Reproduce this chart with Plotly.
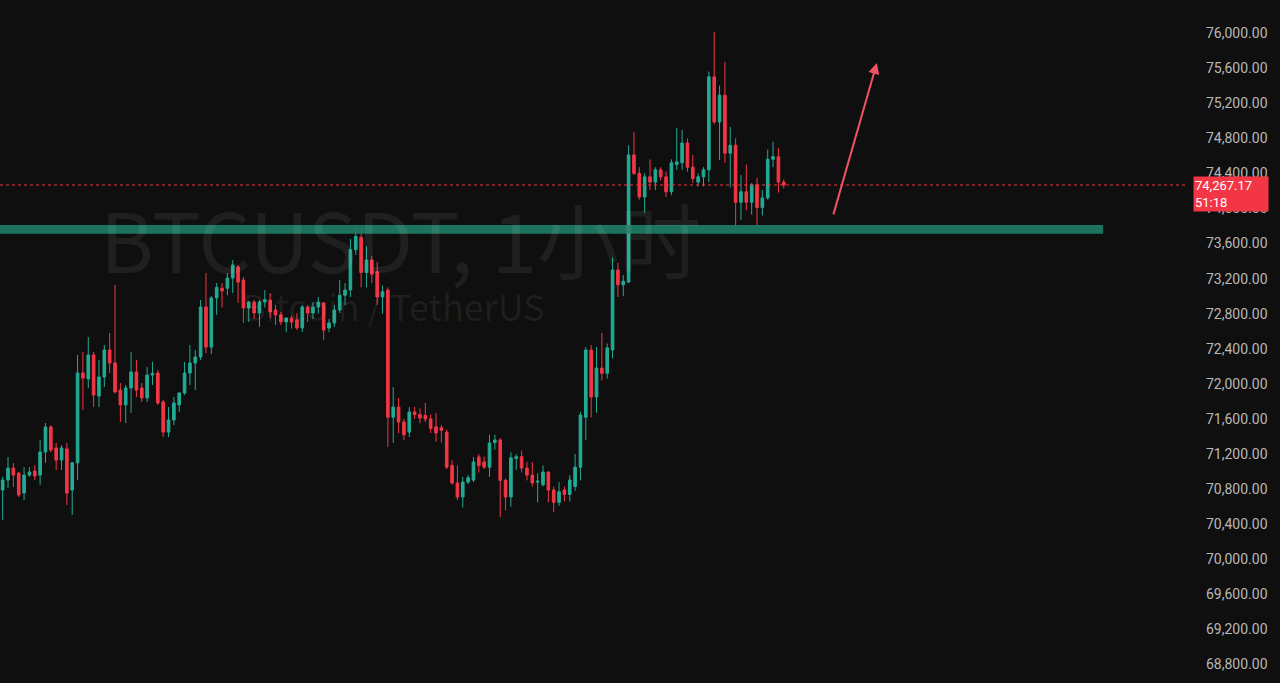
import plotly.graph_objects as go

# OHLC data (hourly candles, BTCUSDT)
opens = [70790, 70904, 71040, 70983, 70756, 70960, 71006, 70960, 71223, 71508,
         71270, 71132, 71258, 70790, 71100, 72124, 72056, 72330, 71862, 72078,
         72386, 72238, 71930, 71760, 71953, 72135, 71953, 71840, 72100, 72124,
         71794, 71450, 71588, 71760, 71896, 72124, 72238, 72306, 72876, 72420,
         72980, 73090, 73090, 73206, 73332, 73184, 72865, 72933, 72808, 72933,
         72956, 72842, 72786, 72706, 72750, 72728, 72638, 72876, 72808, 72876,
         72922, 72636, 72694, 72842, 73010, 73070, 73530, 73670, 73270, 73412,
         73280, 72990, 73070, 71620, 71736, 71565, 71450, 71680, 71650, 71640,
         71600, 71510, 71500, 71450, 71070, 70870, 70710, 70880, 70904, 71166,
         71110, 71050, 71330, 71360, 70900, 70710, 71150, 71170, 71040, 70960,
         70880, 70850, 70995, 70790, 70650, 70790, 70740, 70830, 71050, 71620,
         72386, 71850, 72180, 72120, 72386, 73298, 73130, 73160, 74610, 74400,
         74130, 74360, 74300, 74440, 74360, 74190, 74500, 74520, 74746, 74470,
         74300, 74360, 74440, 75500, 74986, 75290, 74630, 74720, 74070, 74190,
         74070, 74270, 74010, 74120, 74560, 74590, 74300]
highs = [70940, 71166, 71097, 70995, 71050, 71050, 71070, 71360, 71554, 71530,
         71326, 71300, 71326, 71110, 72330, 72363, 72534, 72363, 72272, 72443,
         72580, 73128, 72010, 71987, 72363, 72272, 72010, 72192, 72250, 72158,
         71816, 71736, 71850, 71907, 72250, 72443, 72386, 72956, 73264, 73000,
         73150, 73150, 73264, 73412, 73355, 73218, 72945, 72956, 72956, 73070,
         73030, 72900, 72820, 72760, 72780, 72808, 72900, 72900, 72930, 72990,
         72933, 72740, 72900, 73184, 73150, 73650, 73780, 73780, 73570, 73460,
         73390, 73120, 73100, 71964, 71840, 71600, 71736, 71736, 71720, 71782,
         71650, 71668, 71530, 71480, 71130, 71070, 70940, 70960, 71166, 71200,
         71170, 71420, 71420, 71380, 70920, 71220, 71200, 71240, 71110, 71110,
         70980, 71070, 71000, 70830, 70880, 70830, 70960, 71200, 71680, 72420,
         72443, 72420, 72580, 72460, 73440, 73380, 73240, 74720, 74870, 74470,
         74400, 74560, 74470, 74470, 74420, 74560, 74920, 74894, 74800, 74610,
         74400, 74470, 75560, 76010, 75400, 75670, 74930, 74800, 74380, 74500,
         74290, 74350, 74210, 74670, 74760, 74690, 74330]
lows = [70450, 70813, 70825, 70710, 70676, 70940, 70905, 70850, 71100, 71220,
        71018, 71018, 70620, 70505, 70904, 71702, 71953, 71736, 71736, 71964,
        72124, 71890, 71565, 71554, 71668, 71850, 71794, 71794, 71987, 71760,
        71394, 71394, 71530, 71680, 71873, 71987, 71930, 72272, 72352, 72340,
        72786, 72870, 73010, 73036, 72922, 72694, 72705, 72740, 72650, 72870,
        72750, 72670, 72670, 72590, 72630, 72614, 72590, 72706, 72740, 72800,
        72500, 72590, 72650, 72808, 72900, 72990, 73470, 73100, 73100, 73150,
        72900, 72800, 71280, 71326, 71440, 71360, 71394, 71600, 71550, 71565,
        71440, 71340, 71330, 71030, 70850, 70676, 70590, 70860, 70880, 70990,
        71030, 70940, 71250, 70480, 70560, 70600, 71020, 70990, 70900, 70830,
        70650, 70830, 70650, 70540, 70610, 70660, 70660, 70780, 70900, 71360,
        71620, 71670, 72040, 72060, 72290, 72990, 73000, 73150, 74380, 74100,
        73950, 74210, 74210, 74320, 74130, 74150, 74440, 74440, 74420, 74290,
        74250, 74250, 74300, 74960, 74550, 74520, 74240, 73790, 73870, 73980,
        73930, 73790, 73920, 74100, 74470, 74180, 74230]
closes = [70904, 71040, 70960, 70733, 70960, 70995, 70950, 71223, 71508, 71246,
          71132, 71270, 70756, 71100, 72124, 72066, 72330, 71873, 72078, 72386,
          72238, 71907, 71760, 71953, 72135, 71930, 71840, 72100, 72120, 71782,
          71450, 71588, 71782, 71896, 72124, 72238, 72306, 72876, 72420, 72980,
          73100, 73060, 73206, 73355, 73160, 72865, 72933, 72808, 72933, 72960,
          72820, 72786, 72706, 72750, 72706, 72638, 72876, 72808, 72876, 72930,
          72614, 72694, 72842, 73010, 73070, 73530, 73680, 73270, 73412, 73250,
          72990, 73050, 71620, 71736, 71565, 71420, 71680, 71650, 71610, 71600,
          71490, 71440, 71470, 71050, 70870, 70710, 70880, 70930, 71110, 71070,
          71050, 71326, 71360, 70900, 70710, 71156, 71170, 71040, 70960, 70870,
          70890, 70995, 70790, 70650, 70770, 70740, 70904, 71050, 71645, 72386,
          71850, 72180, 72120, 72410, 73298, 73130, 73170, 74610, 74400, 74130,
          74360, 74300, 74440, 74360, 74190, 74520, 74530, 74746, 74470, 74340,
          74360, 74440, 75500, 74986, 75290, 74630, 74720, 74070, 74190, 74070,
          74270, 74010, 74120, 74560, 74590, 74300, 74267.17]

bar_index = list(range(len(opens)))

last_price = 74267.17
countdown = "51:18"
support_low, support_high = 73710, 73810
support_end_index = 205.7
arrow_start = (155.2, 73915)
arrow_end = (163.4, 75658)
y_ticks = [68800, 69200, 69600, 70000, 70400, 70800, 71200, 71600, 72000, 72400,
           72800, 73200, 73600, 74000, 74400, 74800, 75200, 75600, 76000]
y_tick_text = [f"{v:,.2f}" for v in y_ticks]

GREEN = "#22ab94"
RED = "#f23645"
BG = "#0f0f0f"

fig = go.Figure()
fig.add_trace(go.Candlestick(
    x=bar_index, open=opens, high=highs, low=lows, close=closes,
    increasing=dict(line=dict(color=GREEN, width=1), fillcolor=GREEN),
    decreasing=dict(line=dict(color=RED, width=1), fillcolor=RED),
    whiskerwidth=0, showlegend=False, hoverinfo="skip",
))

# support band
fig.add_shape(type="rect", xref="x", yref="y", x0=-0.5, x1=support_end_index,
              y0=support_low, y1=support_high, fillcolor="#1f7a63",
              line=dict(width=0), layer="above", opacity=0.95)
# last price dotted line
fig.add_shape(type="line", xref="paper", yref="y", x0=0, x1=1,
              y0=last_price, y1=last_price,
              line=dict(color=RED, width=1, dash="dot"), layer="above")

# arrow
fig.add_annotation(x=arrow_end[0], y=arrow_end[1], ax=arrow_start[0], ay=arrow_start[1],
                   xref="x", yref="y", axref="x", ayref="y", text="",
                   showarrow=True, arrowhead=2, arrowsize=1.1, arrowwidth=2,
                   arrowcolor="#ef5361")

# watermark
fig.add_annotation(xref="paper", yref="paper", x=0.3376, y=0.652, xanchor="center",
                   text="BTCUSDT, 1小时", showarrow=False,
                   font=dict(family="Noto Sans CJK SC", size=82,
                             color="rgba(255,255,255,0.065)"))
fig.add_annotation(xref="paper", yref="paper", x=0.332, y=0.553, xanchor="center",
                   text="Bitcoin / TetherUS", showarrow=False,
                   font=dict(family="Noto Sans CJK SC", size=36,
                             color="rgba(255,255,255,0.065)"))

# price label
fig.add_annotation(xref="paper", yref="y", x=1, y=last_price, xanchor="left",
                   yanchor="top", xshift=8, yshift=9,
                   text=f"{last_price:,.2f}<br>{countdown}", showarrow=False,
                   align="left", bgcolor=RED, width=72, height=32,
                   borderpad=1,
                   font=dict(family="Roboto", size=13, color="white"))

fig.update_layout(
    width=1280, height=683,
    paper_bgcolor=BG, plot_bgcolor=BG,
    margin=dict(l=0, r=95, t=0, b=0),
    xaxis=dict(range=[-0.5, 221], visible=False, rangeslider=dict(visible=False),
               showgrid=False, zeroline=False),
    yaxis=dict(side="right", range=[68590, 76376], showgrid=False, zeroline=False,
               tickvals=y_ticks, ticktext=y_tick_text, ticks="",
               ticklabelstandoff=20,
               tickfont=dict(family="Roboto", size=14, color="#b8b8b8")),
    showlegend=False,
)

fig.write_html("out.html", config={"displayModeBar": False},
               post_script="document.body.style.margin='0';")
